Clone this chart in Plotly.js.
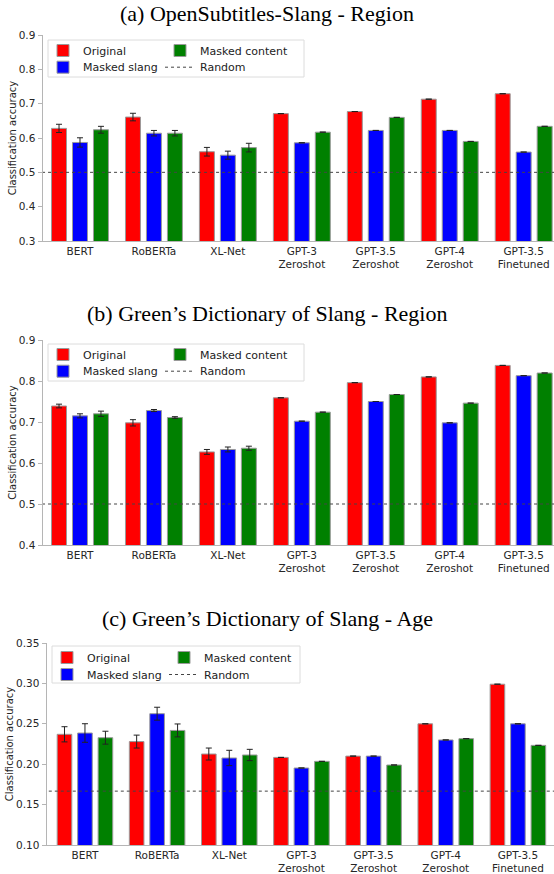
<!DOCTYPE html>
<html><head><meta charset="utf-8">
<script src="https://cdn.plot.ly/plotly-3.0.1.min.js"></script>
<style>html,body{margin:0;padding:0;background:#fff;overflow:hidden}#chart{width:554px;height:874px}</style>
</head><body><div id="chart"></div>
<script>
// ---------- data ----------
const categories = ['BERT','RoBERTa','XL-Net','GPT-3<br>Zeroshot','GPT-3.5<br>Zeroshot','GPT-4<br>Zeroshot','GPT-3.5<br>Finetuned'];
const seriesNames = ['Original','Masked slang','Masked content','Random'];
const panelTitles = ['(a) OpenSubtitles-Slang - Region','(b) Green\u2019s Dictionary of Slang - Region','(c) Green\u2019s Dictionary of Slang - Age'];

// (a) OpenSubtitles-Slang - Region
const aOriginal       = [0.628,0.661,0.560,0.671,0.677,0.713,0.729];
const aOriginalErr    = [0.012,0.011,0.0126,0,0,0,0];
const aMaskedSlang    = [0.587,0.614,0.550,0.586,0.622,0.622,0.559];
const aMaskedSlangErr = [0.0136,0.008,0.0117,0,0,0,0];
const aMaskedContent  = [0.624,0.614,0.572,0.617,0.660,0.590,0.634];
const aMaskedContentErr=[0.010,0.008,0.0126,0,0,0,0];
const aRandom = 0.5;

// (b) Green's Dictionary of Slang - Region
const bOriginal       = [0.739,0.698,0.627,0.759,0.796,0.810,0.838];
const bOriginalErr    = [0.0045,0.0077,0.006,0,0,0,0];
const bMaskedSlang    = [0.715,0.728,0.633,0.702,0.750,0.698,0.813];
const bMaskedSlangErr = [0.005,0.0025,0.006,0,0,0,0];
const bMaskedContent  = [0.720,0.711,0.636,0.724,0.767,0.746,0.8195];
const bMaskedContentErr=[0.0065,0.002,0.005,0,0,0,0];
const bRandom = 0.5;

// (c) Green's Dictionary of Slang - Age
const cOriginal       = [0.237,0.228,0.2126,0.2084,0.210,0.250,0.299];
const cOriginalErr    = [0.0094,0.008,0.0074,0,0,0,0];
const cMaskedSlang    = [0.2386,0.2625,0.2077,0.1953,0.210,0.230,0.250];
const cMaskedSlangErr = [0.0115,0.008,0.0095,0,0,0,0];
const cMaskedContent  = [0.2328,0.2418,0.2114,0.2035,0.199,0.2316,0.2233];
const cMaskedContentErr=[0.008,0.008,0.007,0,0,0,0];
const cRandom = 1/6;

// ---------- layout helpers ----------
const W = 554, H = 874;
const px = v => v / W;
const py = v => 1 - v / H;
const colors = ['#ff0000','#0000ff','#008000'];
const FONT = 'DejaVu Sans, sans-serif';
const xIdx = categories.map((_, i) => i);

const panels = [
  {orig:aOriginal, oe:aOriginalErr, slang:aMaskedSlang, se:aMaskedSlangErr, cont:aMaskedContent, ce:aMaskedContentErr, rnd:aRandom,
   left:42.5, top:35, bottom:241, xr:[-0.507, 6.41], yr:[0.3,0.9], dtick:0.1, fmt:'.1f',
   titleY:13, cols:[43,160], rows:[50,66.7], box:[48,40,304,77]},
  {orig:bOriginal, oe:bOriginalErr, slang:bMaskedSlang, se:bMaskedSlangErr, cont:bMaskedContent, ce:bMaskedContentErr, rnd:bRandom,
   left:42.5, top:340, bottom:545, xr:[-0.507, 6.41], yr:[0.4,0.9], dtick:0.1, fmt:'.1f',
   titleY:313, cols:[43,160], rows:[354,370.7], box:[48,344,304,381]},
  {orig:cOriginal, oe:cOriginalErr, slang:cMaskedSlang, se:cMaskedSlangErr, cont:cMaskedContent, ce:cMaskedContentErr, rnd:cRandom,
   left:46.5, top:643, bottom:845, xr:[-0.533, 6.50], yr:[0.10,0.35], dtick:0.05, fmt:'.2f',
   titleY:618, cols:[47,164], rows:[657,674], box:[52,646,300,683]}
];

const data = [];
const layout = {
  width: W, height: H,
  margin: {l:0, r:0, t:0, b:0},
  paper_bgcolor: '#fff', plot_bgcolor: 'rgba(0,0,0,0)',
  barmode: 'group', bargap: 0.149, bargroupgap: 0.286,
  font: {family: FONT, size: 10, color: '#262626'},
  showlegend: true,
  annotations: [], shapes: []
};

const legName = i => (i === 1 ? 'legend' : 'legend' + i);
// legend slot for each series: [column, row]
const slot = [[0,0],[0,1],[1,0],[1,1]];

panels.forEach((p, k) => {
  const n = k === 0 ? '' : String(k + 1);
  const xa = 'x' + n, ya = 'y' + n;
  const legs = slot.map((s, j) => legName(4 * k + j + 1));
  const series = [[p.orig, p.oe], [p.slang, p.se], [p.cont, p.ce]];
  series.forEach((s, j) => {
    data.push({
      type: 'bar', x: xIdx, y: s[0], name: seriesNames[j],
      xaxis: xa, yaxis: ya, legend: legs[j],
      marker: {color: colors[j], line: {color: '#9a9a9a', width: 1}},
      error_y: {type: 'data', array: s[1], visible: true, color: '#222', thickness: 1, width: 3},
      hoverinfo: 'skip'
    });
  });
  data.push({
    type: 'scatter', mode: 'lines', x: [-1, 7], y: [p.rnd, p.rnd], name: seriesNames[3],
    xaxis: xa, yaxis: ya, legend: legs[3],
    line: {color: '#444', width: 1, dash: 'dot'}, hoverinfo: 'skip'
  });

  layout['xaxis' + n] = {
    domain: [px(p.left), 1], anchor: ya, range: p.xr,
    tickmode: 'array', tickvals: xIdx, ticktext: categories,
    showline: true, linecolor: '#b5b5b5', linewidth: 1, ticks: '',
    showgrid: false, zeroline: false, fixedrange: true,
    tickfont: {family: FONT, size: 10.5, color: '#262626'}
  };
  layout['yaxis' + n] = {
    domain: [py(p.bottom), py(p.top)], anchor: xa, range: p.yr,
    dtick: p.dtick, tick0: 0, tickformat: p.fmt,
    showline: true, linecolor: '#b5b5b5', linewidth: 1,
    ticks: 'outside', ticklen: 4, tickcolor: '#b5b5b5',
    showgrid: false, zeroline: false, fixedrange: true,
    tickfont: {family: FONT, size: 10.5, color: '#262626'},
    title: {text: 'Classification accuracy', font: {family: FONT, size: 10, color: '#262626'}, standoff: 0}
  };
  legs.forEach((lg, j) => {
    layout[lg] = {
      x: px(p.cols[slot[j][0]]), y: py(p.rows[slot[j][1]] - 14), xanchor: 'left', yanchor: 'top',
      orientation: 'v',
      bgcolor: 'rgba(0,0,0,0)', borderwidth: 0,
      font: {family: FONT, size: 11, color: '#222'}
    };
  });
  layout.shapes.push({
    type: 'rect', xref: 'paper', yref: 'paper', layer: 'below',
    x0: px(p.box[0]), y0: py(p.box[1]), x1: px(p.box[2]), y1: py(p.box[3]),
    line: {color: '#dcdcdc', width: 1}, fillcolor: 'rgba(255,255,255,0.8)'
  });
  layout.annotations.push({
    text: panelTitles[k], xref: 'paper', yref: 'paper', x: px(267), y: py(p.titleY),
    xanchor: 'center', yanchor: 'middle', showarrow: false,
    font: {family: 'Liberation Serif, Times New Roman, serif', size: 22, color: '#000'}
  });
});

Plotly.newPlot('chart', data, layout, {displayModeBar: false, staticPlot: true});
</script></body></html>
